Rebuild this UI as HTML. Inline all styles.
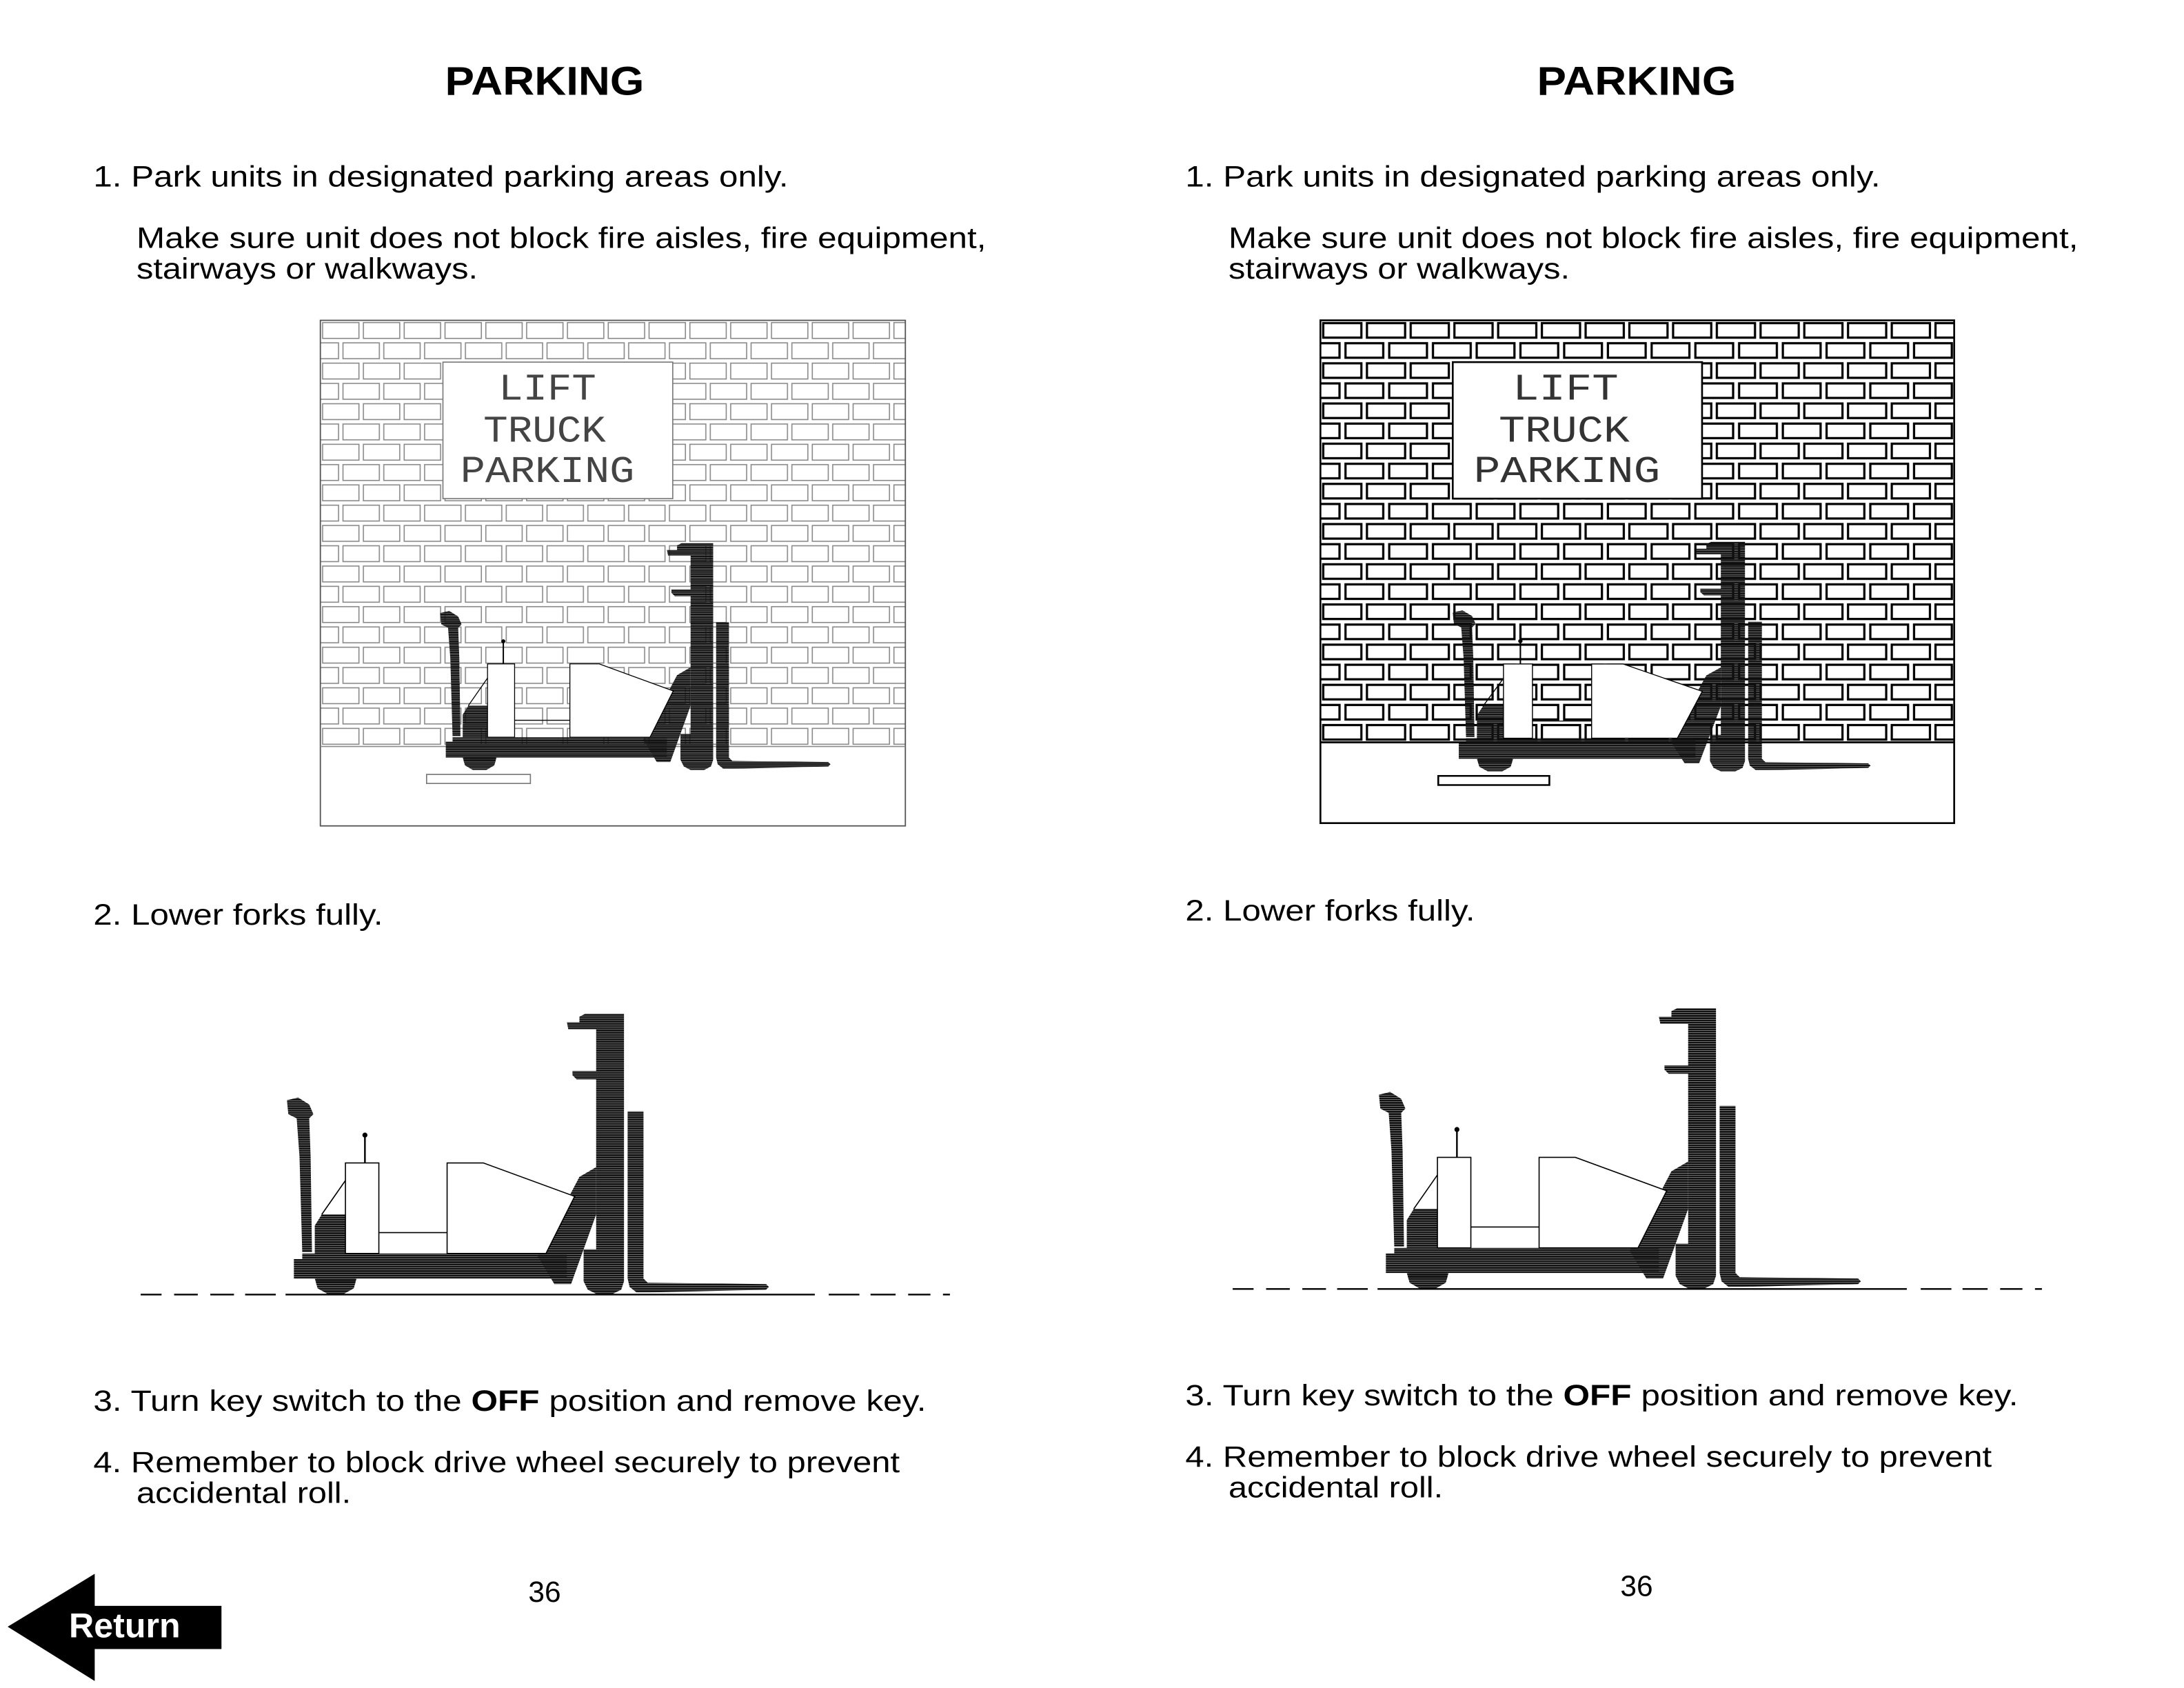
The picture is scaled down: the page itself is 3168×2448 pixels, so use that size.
<!DOCTYPE html>
<html><head><meta charset="utf-8"><style>
html,body{margin:0;padding:0;background:#fff;}
svg{display:block;}
</style></head><body>
<svg xmlns="http://www.w3.org/2000/svg" xmlns:xlink="http://www.w3.org/1999/xlink" width="3168" height="2448" viewBox="0 0 1568 1212" preserveAspectRatio="none">
<defs>
  <pattern id="hatch" patternUnits="userSpaceOnUse" width="8" height="1.6">
    <rect x="0" y="0" width="8" height="1.4" fill="#111"/>
  </pattern>
  <pattern id="brickL" patternUnits="userSpaceOnUse" x="230" y="230" width="29.3" height="29.14">
    <rect x="0" y="0" width="29.3" height="29.14" fill="#fff"/>
    <rect x="1.6" y="1.6" width="26.1" height="11.37" fill="none" stroke="#8a8a8a" stroke-width="0.8"/>
    <rect x="-13.05" y="16.17" width="26.1" height="11.37" fill="none" stroke="#8a8a8a" stroke-width="0.8"/>
    <rect x="16.25" y="16.17" width="26.1" height="11.37" fill="none" stroke="#8a8a8a" stroke-width="0.8"/>
  </pattern>
  <pattern id="brickR" patternUnits="userSpaceOnUse" x="948" y="230" width="31.4" height="28.86">
    <rect x="0" y="0" width="31.4" height="28.86" fill="#fff"/>
    <rect x="2" y="2" width="27.4" height="10.43" fill="none" stroke="#000" stroke-width="1.6"/>
    <rect x="-13.7" y="16.43" width="27.4" height="10.43" fill="none" stroke="#000" stroke-width="1.6"/>
    <rect x="18" y="16.43" width="27.4" height="10.43" fill="none" stroke="#000" stroke-width="1.6"/>
  </pattern>
  <g id="truck">
    <path d="M206,790 L214,788 L222,793 L225,800 L222,803 L223,830 L224,899 L217,899 L215,830 L213,803 L207,800 Z" fill="url(#hatch)"/>
    <path d="M226,880 L231,872 L248,872 L248,900 L226,900 Z" fill="url(#hatch)"/>
    <path d="M217,900 L407,900 L407,918 L255,918 L255,922 L227,922 L227,918 L211,918 L211,904 L217,904 Z" fill="url(#hatch)"/>
    <path d="M226,918 L256,918 L254,925 L247,929 L235,929 L228,925 Z" fill="url(#hatch)"/>
    <path d="M386,902 L416,845 L428,838 L428,872 L410,922 L398,922 Z" fill="url(#hatch)"/>
    <path d="M420,728 L448,728 L448,920 L446,926 L440,929 L428,929 L422,926 L419,920 L419,897 L428,897 L428,775 L414,775 L411,772 L411,769 L428,769 L428,739 L408,739 L407,734 L416,734 L416,730 Z" fill="url(#hatch)"/>
    <path d="M450.6,798 L462,798 L462,918 L465,921 L550,922 L552,924 L550,926 L466,928 L457,928 L452,924 L450.6,918 Z" fill="url(#hatch)"/>
    <rect x="248" y="835" width="24" height="65" fill="#fff" stroke="#000" stroke-width="0.8"/>
    <line x1="262" y1="814" x2="262" y2="835" stroke="#000" stroke-width="1.2"/>
    <circle cx="262" cy="815" r="1.8" fill="#000"/>
    <path d="M321,900 L321,835 L347,835 L412.6,859 L392,900 Z" fill="#fff" stroke="#000" stroke-width="0.8"/>
    <line x1="272" y1="885" x2="321" y2="885" stroke="#000" stroke-width="0.8"/>
    <line x1="231" y1="872" x2="248" y2="847.6" stroke="#000" stroke-width="0.8"/>
  </g>
</defs>

<rect x="0" y="0" width="1568" height="1212" fill="#fff"/>

<g font-family="'Liberation Sans', Arial, sans-serif" fill="#000">
  <text x="391" y="68" font-size="29" font-weight="bold" text-anchor="middle" textLength="143" lengthAdjust="spacingAndGlyphs">PARKING</text>
  <text x="67" y="134" font-size="21" textLength="499" lengthAdjust="spacingAndGlyphs">1. Park units in designated parking areas only.</text>
  <text x="98" y="178" font-size="21" textLength="610" lengthAdjust="spacingAndGlyphs">Make sure unit does not block fire aisles, fire equipment,</text>
  <text x="98" y="200" font-size="21" textLength="245" lengthAdjust="spacingAndGlyphs">stairways or walkways.</text>
  <text x="67" y="664" font-size="21" textLength="208" lengthAdjust="spacingAndGlyphs">2. Lower forks fully.</text>
  <text x="67" y="1013" font-size="21" textLength="598" lengthAdjust="spacingAndGlyphs">3. Turn key switch to the <tspan font-weight="bold">OFF</tspan> position and remove key.</text>
  <text x="67" y="1057" font-size="21" textLength="579" lengthAdjust="spacingAndGlyphs">4. Remember to block drive wheel securely to prevent</text>
  <text x="98" y="1079" font-size="21" textLength="154" lengthAdjust="spacingAndGlyphs">accidental roll.</text>
  <text x="391" y="1150" font-size="21" text-anchor="middle">36</text>

  <text x="1175" y="68" font-size="29" font-weight="bold" text-anchor="middle" textLength="143" lengthAdjust="spacingAndGlyphs">PARKING</text>
  <text x="851" y="134" font-size="21" textLength="499" lengthAdjust="spacingAndGlyphs">1. Park units in designated parking areas only.</text>
  <text x="882" y="178" font-size="21" textLength="610" lengthAdjust="spacingAndGlyphs">Make sure unit does not block fire aisles, fire equipment,</text>
  <text x="882" y="200" font-size="21" textLength="245" lengthAdjust="spacingAndGlyphs">stairways or walkways.</text>
  <text x="851" y="661" font-size="21" textLength="208" lengthAdjust="spacingAndGlyphs">2. Lower forks fully.</text>
  <text x="851" y="1009" font-size="21" textLength="598" lengthAdjust="spacingAndGlyphs">3. Turn key switch to the <tspan font-weight="bold">OFF</tspan> position and remove key.</text>
  <text x="851" y="1053" font-size="21" textLength="579" lengthAdjust="spacingAndGlyphs">4. Remember to block drive wheel securely to prevent</text>
  <text x="882" y="1075" font-size="21" textLength="154" lengthAdjust="spacingAndGlyphs">accidental roll.</text>
  <text x="1175" y="1146" font-size="21" text-anchor="middle">36</text>
</g>

<rect x="230" y="230" width="420" height="306" fill="url(#brickL)"/>
<rect x="230" y="230" width="420" height="363" fill="none" stroke="#555" stroke-width="0.9"/>
<line x1="230" y1="536" x2="650" y2="536" stroke="#8a8a8a" stroke-width="0.8"/>
<rect x="318" y="260" width="165" height="98" fill="#fff" stroke="#777" stroke-width="0.8"/>
<g font-family="'Liberation Mono', 'DejaVu Sans Mono', monospace" font-size="27" fill="#444" text-anchor="middle">
  <text x="393" y="287" textLength="70" lengthAdjust="spacingAndGlyphs">LIFT</text>
  <text x="391" y="317" textLength="88" lengthAdjust="spacingAndGlyphs">TRUCK</text>
  <text x="393" y="346" textLength="125" lengthAdjust="spacingAndGlyphs">PARKING</text>
</g>
<g transform="translate(316,390) scale(0.81) translate(-206,-728)">
  <rect x="194" y="933" width="92" height="8" fill="#fff" stroke="#777" stroke-width="1"/>
  <use xlink:href="#truck"/>
</g>

<rect x="948" y="230" width="455" height="303" fill="url(#brickR)"/>
<rect x="948" y="230" width="455" height="361" fill="none" stroke="#000" stroke-width="1.3"/>
<line x1="948" y1="533" x2="1403" y2="533" stroke="#000" stroke-width="1.4"/>
<rect x="1043" y="260" width="179" height="98" fill="#fff" stroke="#000" stroke-width="1.3"/>
<g font-family="'Liberation Mono', 'DejaVu Sans Mono', monospace" font-size="27" fill="#333" text-anchor="middle">
  <text x="1124" y="287" textLength="76" lengthAdjust="spacingAndGlyphs">LIFT</text>
  <text x="1123" y="317" textLength="94" lengthAdjust="spacingAndGlyphs">TRUCK</text>
  <text x="1125" y="346" textLength="134" lengthAdjust="spacingAndGlyphs">PARKING</text>
</g>
<g transform="translate(1043,389) scale(0.867,0.82) translate(-206,-728)">
  <rect x="194" y="933" width="92" height="8" fill="#fff" stroke="#000" stroke-width="1.5"/>
  <use xlink:href="#truck"/>
</g>

<use xlink:href="#truck"/>
<g stroke="#000" stroke-width="1.2">
  <line x1="101" y1="929.5" x2="116" y2="929.5"/>
  <line x1="125" y1="929.5" x2="142" y2="929.5"/>
  <line x1="151" y1="929.5" x2="168" y2="929.5"/>
  <line x1="176" y1="929.5" x2="198" y2="929.5"/>
  <line x1="205" y1="929.5" x2="585" y2="929.5"/>
  <line x1="595" y1="929.5" x2="617" y2="929.5"/>
  <line x1="625" y1="929.5" x2="643" y2="929.5"/>
  <line x1="652" y1="929.5" x2="668" y2="929.5"/>
  <line x1="677" y1="929.5" x2="682" y2="929.5"/>
</g>

<g transform="translate(784,-4)">
  <use xlink:href="#truck"/>
  <g stroke="#000" stroke-width="1.2">
    <line x1="101" y1="929.5" x2="116" y2="929.5"/>
    <line x1="125" y1="929.5" x2="142" y2="929.5"/>
    <line x1="151" y1="929.5" x2="168" y2="929.5"/>
    <line x1="176" y1="929.5" x2="198" y2="929.5"/>
    <line x1="205" y1="929.5" x2="585" y2="929.5"/>
    <line x1="595" y1="929.5" x2="617" y2="929.5"/>
    <line x1="625" y1="929.5" x2="643" y2="929.5"/>
    <line x1="652" y1="929.5" x2="668" y2="929.5"/>
    <line x1="677" y1="929.5" x2="682" y2="929.5"/>
  </g>
</g>

<path d="M5.5,1168 L68,1130 L68,1153 L159,1153 L159,1184 L68,1184 L68,1207 Z" fill="#000"/>
<text x="49.5" y="1175.5" font-family="'Liberation Sans', Arial, sans-serif" font-size="25" font-weight="bold" fill="#fff" textLength="80" lengthAdjust="spacingAndGlyphs">Return</text>
</svg>
</body></html>
